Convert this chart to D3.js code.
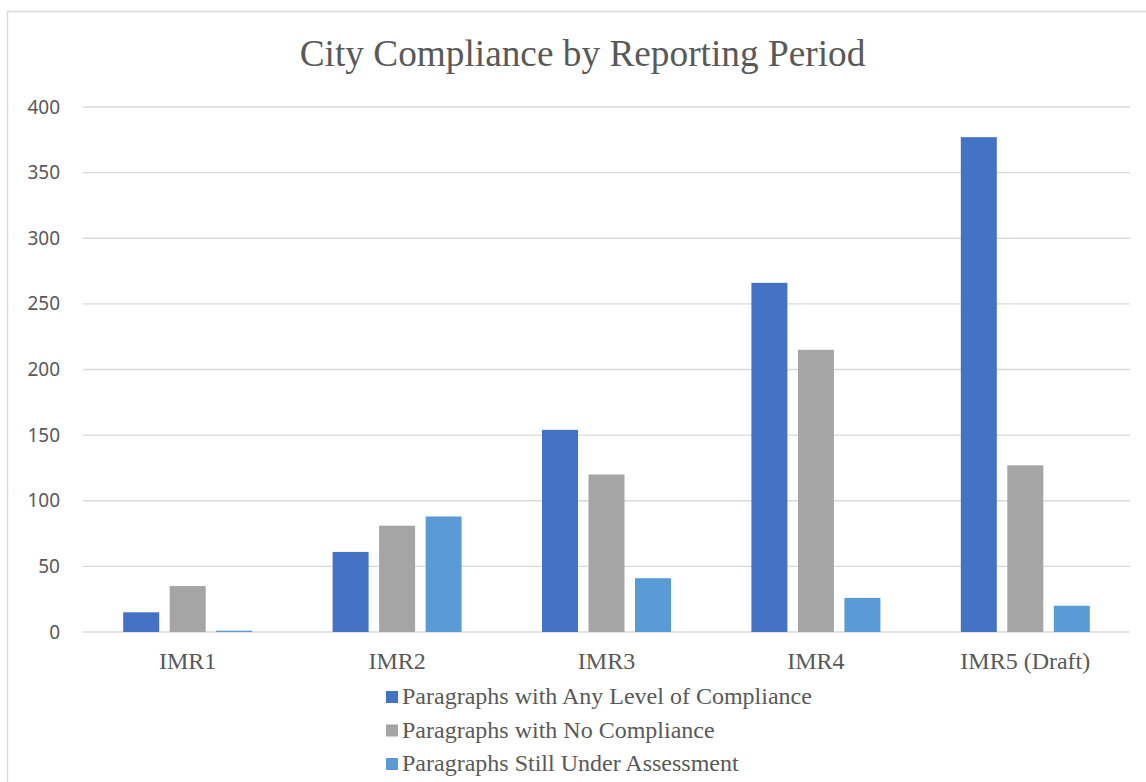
<!DOCTYPE html>
<html>
<head>
<meta charset="utf-8">
<script src="https://d3js.org/d3.v7.min.js"></script>
<style>
body { margin: 0; background: #fff; }
svg { display: block; }
</style>
</head>
<body>
<svg id="vis" width="1146" height="782"></svg>
<script>
// chart data
var categories = ["IMR1", "IMR2", "IMR3", "IMR4", "IMR5 (Draft)"];
var seriesNames = [
  "Paragraphs with Any Level of Compliance",
  "Paragraphs with No Compliance",
  "Paragraphs Still Under Assessment"
];
var anyCompliance = [15, 61, 154, 266, 377];
var noCompliance = [35, 81, 120, 215, 127];
var underAssessment = [1, 88, 41, 26, 20];
var yTicks = [0, 50, 100, 150, 200, 250, 300, 350, 400];
var colors = ["#4472C4", "#A5A5A5", "#5B9BD5"];

var seriesValues = [anyCompliance, noCompliance, underAssessment];

var svg = d3.select("#vis");

// outer frame
svg.append("rect")
  .attr("x", 7.5).attr("y", 11.5)
  .attr("width", 1160).attr("height", 800)
  .attr("fill", "none")
  .attr("stroke", "#D9D9D9")
  .attr("stroke-width", 1.5);

// plot area (note: "top" is taken by window.top, so use plot* names)
var plotLeft = 83, plotRight = 1130, plotTop = 107, plotBottom = 632;

var x = d3.scaleBand().domain(categories).range([plotLeft, plotRight]);
var y = d3.scaleLinear().domain([0, 400]).range([plotBottom, plotTop]);

// title
svg.append("text")
  .attr("x", (plotLeft + plotRight) / 2 - 24)
  .attr("y", 66)
  .attr("text-anchor", "middle")
  .attr("font-family", "'Liberation Serif', 'Times New Roman', serif")
  .attr("font-size", "37.3px")
  .attr("fill", "#595959")
  .text("City Compliance by Reporting Period");

// gridlines
svg.append("g").selectAll("line")
  .data(yTicks)
  .join("line")
  .attr("x1", plotLeft).attr("x2", plotRight)
  .attr("y1", function(d) { return y(d); })
  .attr("y2", function(d) { return y(d); })
  .attr("stroke", "#D9D9D9")
  .attr("stroke-width", 1.3);

// y axis labels
var yAxis = d3.axisLeft(y).tickValues(yTicks).tickSize(0).tickPadding(0);
var gy = svg.append("g").attr("transform", "translate(60,0)").call(yAxis);
gy.select(".domain").remove();
gy.selectAll("text")
  .attr("font-family", "'Noto Sans', 'Open Sans', sans-serif")
  .attr("font-size", "19px")
  .attr("fill", "#595959");

// x axis labels
var xAxis = d3.axisBottom(x).tickSize(0).tickPadding(0);
var gx = svg.append("g").attr("transform", "translate(0," + plotBottom + ")").call(xAxis);
gx.select(".domain").remove();
gx.selectAll("text")
  .attr("dy", null)
  .attr("y", 37)
  .attr("font-family", "'Liberation Serif', 'Times New Roman', serif")
  .attr("font-size", "24px")
  .attr("fill", "#595959");

// bars
var barW = 36, barGap = 10.5;
var groupW = 3 * barW + 2 * barGap;
var inner = d3.scaleBand().domain([0, 1, 2]).range([0, groupW]).paddingInner(barGap / (barW + barGap));

var groups = svg.append("g").selectAll("g")
  .data(categories)
  .join("g")
  .attr("transform", function(d) { return "translate(" + (x(d) + x.bandwidth() / 2 - groupW / 2) + ",0)"; });

groups.selectAll("rect")
  .data(function(d, i) { return seriesValues.map(function(s, j) { return { s: j, v: s[i] }; }); })
  .join("rect")
  .attr("x", function(d) { return inner(d.s); })
  .attr("width", inner.bandwidth())
  .attr("y", function(d) { return y(d.v); })
  .attr("height", function(d) { return y(0) - y(d.v); })
  .attr("fill", function(d) { return colors[d.s]; });

// legend
var legend = svg.append("g").selectAll("g")
  .data(seriesNames)
  .join("g")
  .attr("transform", function(d, i) { return "translate(386," + (697 + i * 33.5) + ")"; });

legend.append("rect")
  .attr("x", 0).attr("y", -6)
  .attr("width", 12).attr("height", 12)
  .attr("fill", function(d, i) { return colors[i]; });

legend.append("text")
  .attr("x", 16)
  .attr("y", 7)
  .attr("font-family", "'Liberation Serif', 'Times New Roman', serif")
  .attr("font-size", "24px")
  .attr("fill", "#595959")
  .text(function(d) { return d; });
</script>
</body>
</html>
